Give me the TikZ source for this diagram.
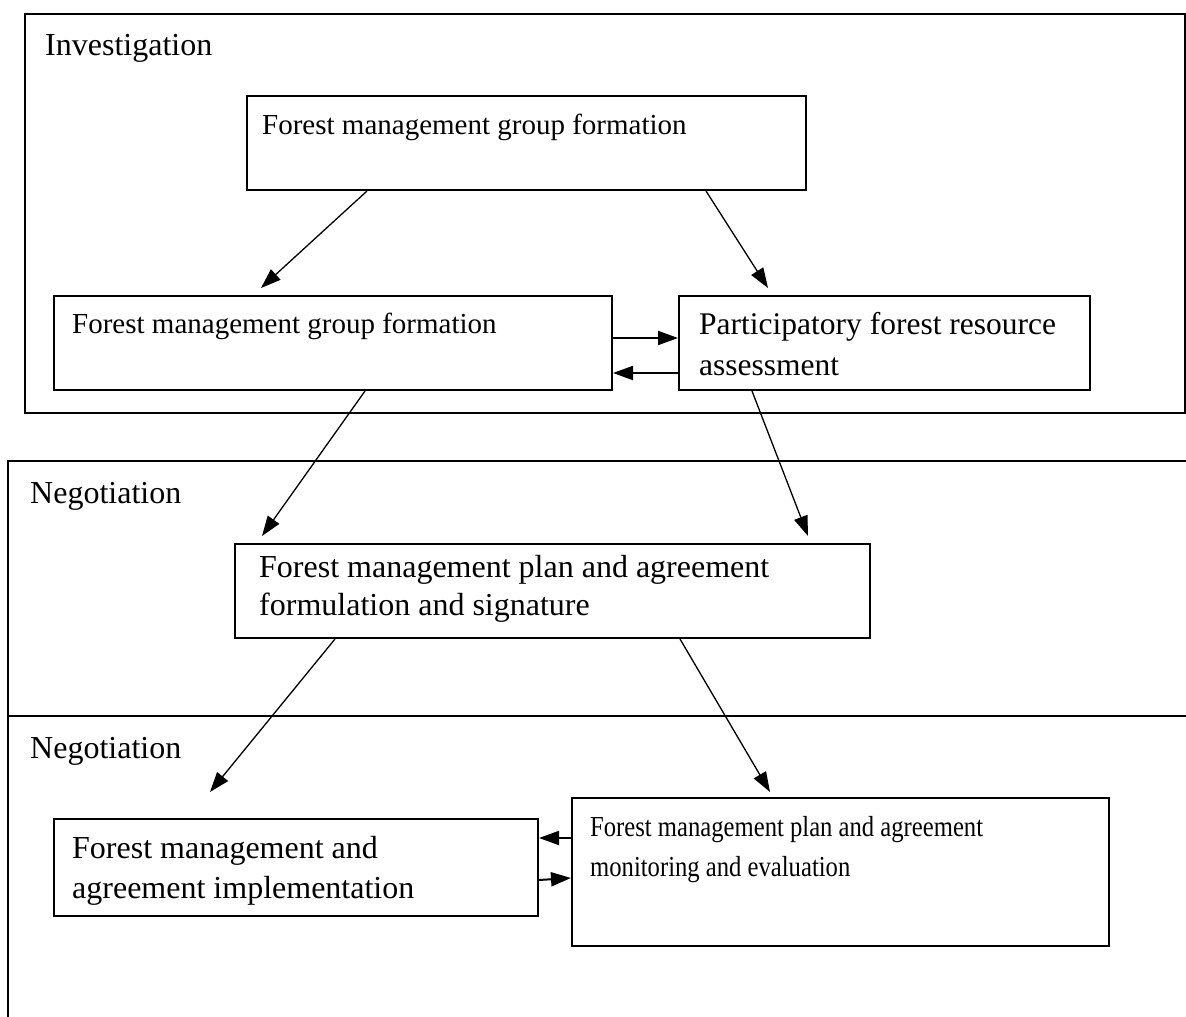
\documentclass[tikz,border=0pt]{standalone}
\usepackage{fontspec}
\setmainfont{Liberation Serif}
\newfontfamily\condserif[FakeStretch=0.85]{Liberation Serif}
\usetikzlibrary{arrows.meta}
\begin{document}
\begin{tikzpicture}[x=1pt,y=-1pt,
  frameline/.style={line width=2pt},
  box/.style={draw, line width=2pt, anchor=north west, inner sep=0pt},
  lbl/.style={anchor=base west, inner sep=0pt, font=\fontsize{32}{40}\selectfont},
  txt/.style={anchor=base west, inner sep=0pt},
  arr/.style={line width=1.3pt, -{Triangle[length=20pt,width=14pt]}},
  harr/.style={line width=2pt, -{Triangle[length=20pt,width=14pt]}},
]
\useasboundingbox (0,0) rectangle (1186,1017);

% section frames
\draw[frameline] (25,14) rectangle (1185,413);
\draw[frameline] (1186,461) -- (8,461) -- (8,1017);
\draw[frameline] (8,716) -- (1186,716);

\node[lbl] (inv) at (45,55) {Investigation};
\node[lbl] (neg1) at (30,503) {Negotiation};
\node[lbl] (neg2) at (30,758) {Negotiation};

% boxes
\node[box, minimum width=559pt, minimum height=94pt] (A) at (246,95) {};
\node[box, minimum width=558pt, minimum height=94pt] (B) at (53,295) {};
\node[box, minimum width=411pt, minimum height=94pt] (C) at (678,295) {};
\node[box, minimum width=635pt, minimum height=94pt] (D) at (234,543) {};
\node[box, minimum width=484pt, minimum height=97pt] (E) at (53,818) {};
\node[box, minimum width=537pt, minimum height=148pt] (F) at (571,797) {};

% box texts
\node[txt, font=\fontsize{29}{36}\selectfont] (At) at (262,134) {Forest management group formation};
\node[txt, font=\fontsize{29}{36}\selectfont] (Bt) at (72,333) {Forest management group formation};
\node[txt, font=\fontsize{31.5}{41}\selectfont] (Ct) at (699,334)
  {\parbox[t]{380pt}{Participatory forest resource\\assessment}};
\begin{scope}
  \clip (236,545) rectangle (867,623);
  \node[txt, font=\fontsize{32}{38}\selectfont] (Dt) at (259,577)
    {\parbox[t]{600pt}{Forest management plan and agreement\\formulation and signature}};
\end{scope}
\begin{scope}
  \clip (55,820) rectangle (535,908);
  \node[txt, font=\fontsize{32}{40}\selectfont] (Et) at (72,858)
    {\parbox[t]{460pt}{Forest management and\\agreement implementation}};
\end{scope}
\node[txt, font=\condserif\fontsize{29}{40}\selectfont] (Ft) at (590,836)
  {\parbox[t]{500pt}{Forest management plan and agreement\\monitoring and evaluation}};

% connectors
\draw[arr] ([xshift=121pt]A.south west) -- ([xshift=208pt,yshift=7pt]B.north west);
\draw[arr] ([xshift=460pt]A.south west) -- ([xshift=90pt,yshift=7pt]C.north west);
\draw[harr] ([yshift=-43pt]B.north east) -- ([yshift=-43pt]C.north west);
\draw[harr] ([yshift=-78pt]C.north west) -- ([yshift=-78pt]B.north east);
\draw[arr] ([xshift=312pt]B.south west) -- ([xshift=28pt,yshift=7pt]D.north west);
\draw[arr] ([xshift=74pt]C.south west) -- ([xshift=574pt,yshift=7pt]D.north west);
\draw[arr] ([xshift=101pt]D.south west) -- ([xshift=157pt,yshift=26pt]E.north west);
\draw[arr] ([xshift=446pt]D.south west) -- ([xshift=199pt,yshift=5pt]F.north west);
\draw[harr] ([yshift=-41pt]F.north west) -- ([yshift=-20pt]E.north east);
\draw[harr] ([yshift=-62pt]E.north east) -- ([yshift=-81pt]F.north west);
\end{tikzpicture}
\end{document}
